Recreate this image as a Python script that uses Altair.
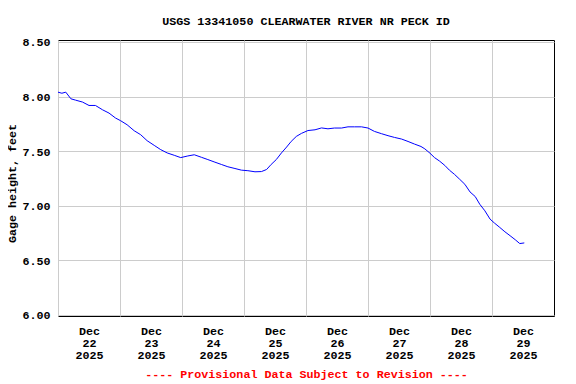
import altair as alt
import pandas as pd

# 15-minute gage height readings
times = [
    "2025-12-22T00:00", "2025-12-22T01:30", "2025-12-22T03:00", "2025-12-22T05:00",
    "2025-12-22T06:45", "2025-12-22T09:30", "2025-12-22T12:00", "2025-12-22T14:30",
    "2025-12-22T17:15", "2025-12-22T19:45", "2025-12-22T22:15", "2025-12-23T00:15",
    "2025-12-23T02:45", "2025-12-23T05:30", "2025-12-23T08:00", "2025-12-23T10:30",
    "2025-12-23T13:15", "2025-12-23T15:45", "2025-12-23T18:15", "2025-12-23T21:00",
    "2025-12-23T23:30", "2025-12-24T02:15", "2025-12-24T04:45", "2025-12-24T07:30",
    "2025-12-24T10:00", "2025-12-24T12:45", "2025-12-24T15:15", "2025-12-24T17:45",
    "2025-12-24T20:30", "2025-12-24T23:00", "2025-12-25T01:30", "2025-12-25T04:15",
    "2025-12-25T06:45", "2025-12-25T08:45", "2025-12-25T10:30", "2025-12-25T12:30",
    "2025-12-25T14:30", "2025-12-25T16:30", "2025-12-25T18:15", "2025-12-25T20:15",
    "2025-12-25T22:15", "2025-12-26T00:45", "2025-12-26T03:30", "2025-12-26T06:00",
    "2025-12-26T08:30", "2025-12-26T11:00", "2025-12-26T13:45", "2025-12-26T16:15",
    "2025-12-26T18:45", "2025-12-26T21:30", "2025-12-27T00:00", "2025-12-27T02:30",
    "2025-12-27T05:15", "2025-12-27T07:45", "2025-12-27T10:15", "2025-12-27T13:00",
    "2025-12-27T15:30", "2025-12-27T18:00", "2025-12-27T20:30", "2025-12-27T22:00",
    "2025-12-28T00:00", "2025-12-28T01:45", "2025-12-28T03:45", "2025-12-28T05:45",
    "2025-12-28T07:30", "2025-12-28T09:30", "2025-12-28T11:30", "2025-12-28T13:30",
    "2025-12-28T15:30", "2025-12-28T17:30", "2025-12-28T19:15", "2025-12-28T21:15",
    "2025-12-28T23:15", "2025-12-29T01:00", "2025-12-29T03:00", "2025-12-29T05:00",
    "2025-12-29T07:00", "2025-12-29T09:00", "2025-12-29T10:45", "2025-12-29T12:30",
]
stage = [
    8.040, 8.030, 8.040, 7.979,
    7.967, 7.949, 7.918, 7.918,
    7.878, 7.848, 7.803, 7.778,
    7.741, 7.686, 7.650, 7.595,
    7.552, 7.513, 7.483, 7.461,
    7.440, 7.455, 7.466, 7.443,
    7.422, 7.398, 7.377, 7.356,
    7.340, 7.325, 7.320, 7.310,
    7.312, 7.331, 7.377, 7.422,
    7.483, 7.537, 7.588, 7.634,
    7.662, 7.688, 7.695, 7.712,
    7.704, 7.711, 7.711, 7.722,
    7.722, 7.722, 7.711, 7.680,
    7.659, 7.641, 7.625, 7.610,
    7.588, 7.564, 7.542, 7.520,
    7.480, 7.440, 7.407, 7.368,
    7.325, 7.286, 7.241, 7.195,
    7.125, 7.083, 7.013, 6.952,
    6.876, 6.839, 6.800, 6.760,
    6.724, 6.687, 6.652, 6.658,
]

title_text = "USGS 13341050 CLEARWATER RIVER NR PECK ID"
y_title = "Gage height, feet"
footer = "---- Provisional Data Subject to Revision ----"
day_ticks = [22, 23, 24, 25, 26, 27, 28, 29]
y_ticks = [6.0, 6.5, 7.0, 7.5, 8.0, 8.5]

df = pd.DataFrame({"time": times, "stage": stage})

FONT = "Liberation Mono"
FS = 11.7
GRID = "#cccccc"

x_axis = alt.Axis(
    values=[alt.DateTime(year=2025, month=12, date=d) for d in day_ticks],
    labelExpr="[timeFormat(datum.value, '%b'), timeFormat(datum.value, '%d'), timeFormat(datum.value, '%Y')]",
    labelOffset=31,
    labelFlush=False,
    labelOverlap=False,
    labelBound=False,
    ticks=False,
    domain=False,
    grid=True,
    gridColor=GRID,
    gridWidth=1,
    labelFont=FONT,
    labelFontSize=FS,
    labelFontWeight="bold",
    labelColor="black",
    labelAlign="center",
    labelBaseline="top",
    labelLineHeight=12.2,
    labelPadding=9,
    title=footer,
    titleColor="red",
    titleFont=FONT,
    titleFontSize=FS,
    titleFontWeight="bold",
    titleBaseline="alphabetic",
    titleY=61,
)

y_axis = alt.Axis(
    values=y_ticks,
    format=".2f",
    ticks=False,
    domain=False,
    grid=True,
    gridColor=GRID,
    gridWidth=1,
    labelFont=FONT,
    labelFontSize=FS,
    labelFontWeight="bold",
    labelColor="black",
    labelPadding=8,
    labelBaseline="middle",
    title=y_title,
    titleFont=FONT,
    titleFontSize=FS,
    titleFontWeight="bold",
    titleColor="black",
    titleAngle=270,
    titleBaseline="middle",
    titleX=-46.5,
    titleY=143,
)

chart = (
    alt.Chart(df)
    .mark_line(color="#0000ff", strokeWidth=1, clip=True)
    .encode(
        x=alt.X(
            "time:T",
            scale=alt.Scale(
                domain=[
                    alt.DateTime(year=2025, month=12, date=22),
                    alt.DateTime(year=2025, month=12, date=30),
                ]
            ),
            axis=x_axis,
        ),
        y=alt.Y(
            "stage:Q",
            scale=alt.Scale(domain=[5.988, 8.518], nice=False, zero=False),
            axis=y_axis,
        ),
    )
    .properties(
        width=496,
        height=276,
        title=alt.TitleParams(
            text=title_text,
            font=FONT,
            fontSize=FS,
            fontWeight="bold",
            color="black",
            anchor="middle",
            frame="group",
            baseline="alphabetic",
            offset=0,
        ),
        padding={"left": 50, "top": 32, "right": 14, "bottom": 64},
        autosize=alt.AutoSizeParams(type="none"),
        background="white",
    )
    .configure_view(stroke="black", strokeWidth=1)
)

chart.save("out.html", embed_options={"renderer": "svg", "actions": False})
